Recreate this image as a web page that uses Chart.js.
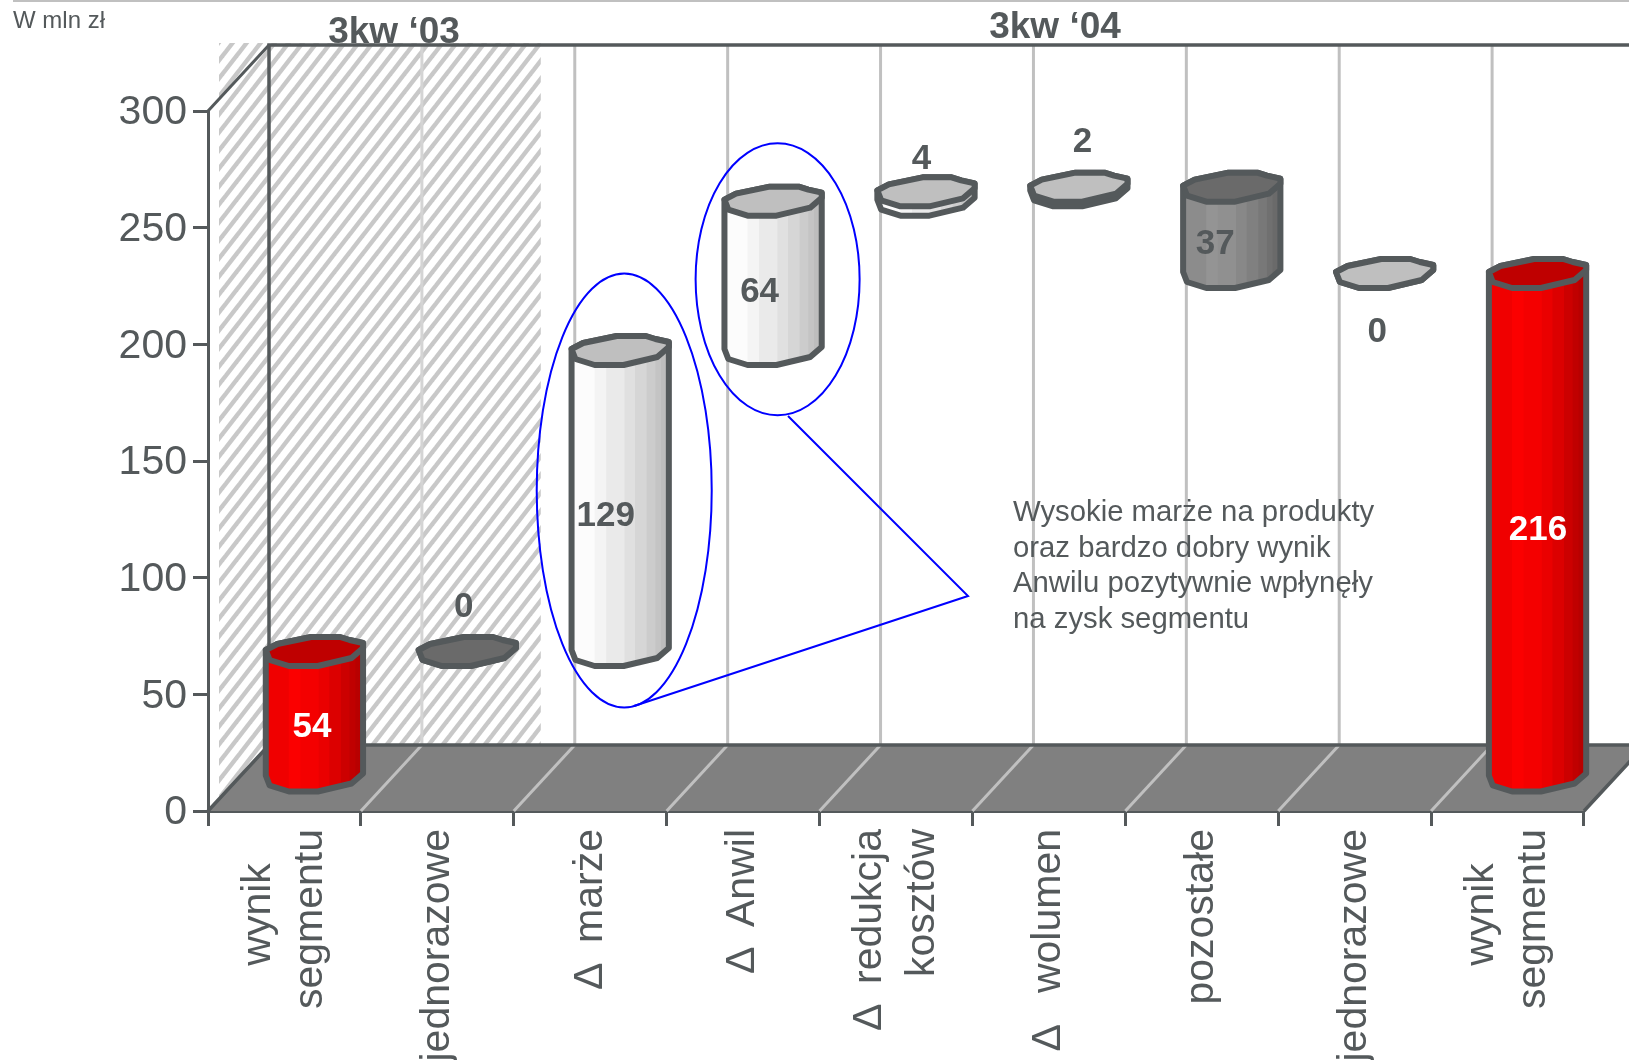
<!DOCTYPE html>
<html lang="pl">
<head>
<meta charset="utf-8">
<title>Wynik segmentu</title>
<script src="https://cdn.jsdelivr.net/npm/chart.js@4"></script>
<style>
  html, body { margin: 0; padding: 0; background: #fff; overflow: hidden; }
  canvas { display: block; }
</style>
</head>
<body>
<canvas id="bridge" width="1629" height="1060"></canvas>
<script>
const categories = [
  ['wynik\u00a0\u00a0\u00a0', 'segmentu'],
  'jednorazowe',
  '\u0394 \u2009mar\u017ce',
  '\u0394 \u2009Anwil',
  ['\u0394 \u2009redukcja', 'kosztów'],
  '\u0394  \u2009wolumen',
  'pozostałe',
  'jednorazowe',
  ['wynik\u00a0\u00a0\u00a0', 'segmentu']
];
const barStart = [0, 54, 54, 183, 247, 251, 216, 216, 0];
const barEnd = [54, 54, 183, 247, 251, 253, 253, 216, 216];
const valueLabels = ['54', '0', '129', '64', '4', '2', '37', '0', '216'];
const yTicks = [0, 50, 100, 150, 200, 250, 300];
const barKinds = ['red', 'dark', 'light', 'light', 'light', 'light', 'dark', 'light', 'red'];
const noteLines = ['Wysokie marże na produkty', 'oraz bardzo dobry wynik', 'Anwilu pozytywnie wpłynęły', 'na zysk segmentu'];

const INK = '#54595b';
const GRID = '#c0c0c0';
const FONT = '"Liberation Sans", Arial, sans-serif';
const DEPTH_X = 61;
const DEPTH_Y = 66;
const BAR_LIFT = 34;
const TICK_LINE = 41 * 1.28;

// stepped shading across a cylinder body
const stripStops = [0, .25, .37, .56, .67, .79, .88, .94, 1];
const ramps = {
  red: ['#f00000', '#fb0000', '#f40000', '#ea0000', '#dc0000', '#cc0000', '#c00000', '#b80000'],
  light: ['#fcfcfc', '#f4f4f4', '#eaeaea', '#e0e0e0', '#d6d6d6', '#cccccc', '#c4c4c4', '#bdbdbd'],
  dark: ['#8c8c8c', '#949494', '#909090', '#888888', '#808080', '#787878', '#707070', '#6a6a6a']
};
const capColors = { red: '#bf0000', light: '#bfbfbf', dark: '#6a6a6a' };

// outline of the cap, per 100px of bar width
const capShape = [[-50, -1], [-38, -7], [-3, -14], [27, -14], [37, -11], [51, -8], [51, -3], [39, 7], [4, 15], [-26, 15], [-46, 9]];

// where each value sits relative to its bar
const labelNudge = [[-2, 16], [-3, -42], [-14, 18], [-13, 19], [-4, -30], [4, -42], [-16, 17], [-7, 61], [1, 8]];

function stripes() {
  const w = 14, h = 18;
  const tile = document.createElement('canvas');
  tile.width = w;
  tile.height = h;
  const t = tile.getContext('2d');
  t.fillStyle = '#fff';
  t.fillRect(0, 0, w, h);
  t.strokeStyle = '#c8c8c8';
  t.lineWidth = 4.4;
  for (let i = -1; i <= 1; i++) {
    t.beginPath();
    t.moveTo(i * w - w, h * 2);
    t.lineTo(i * w + w * 2, -h);
    t.stroke();
  }
  return tile;
}

function line(ctx, pts, color, width) {
  ctx.strokeStyle = color;
  ctx.lineWidth = width;
  ctx.beginPath();
  pts.forEach((p, i) => i ? ctx.lineTo(p[0], p[1]) : ctx.moveTo(p[0], p[1]));
  ctx.stroke();
}

// two-line labels are centred on the tick, value labels dropped slightly
const tickTweaks = {
  id: 'tickTweaks',
  afterUpdate(chart) {
    chart.scales.x.getLabelItems().forEach(item => {
      if (Array.isArray(item.label)) item.options.translation[0] -= TICK_LINE / 2;
    });
    chart.scales.y.getLabelItems().forEach(item => {
      item.options.translation[1] += 2;
    });
  }
};

// walls and floor behind the bars
const room = {
  id: 'room',
  beforeDatasetsDraw(chart) {
    const { ctx, scales: { x, y } } = chart;
    const top = y.top, floor = y.bottom;
    const wallTop = top - DEPTH_Y, wallFloor = floor - DEPTH_Y;
    const step = x.width / categories.length;
    ctx.save();

    // first two categories sit on a hatched band
    ctx.fillStyle = ctx.createPattern(stripes(), 'repeat');
    ctx.fillRect(x.left + 11, wallTop - 2, step * 2 + 16, wallFloor - wallTop + 2 + DEPTH_Y);

    for (let i = 1; i < categories.length; i++) {
      const bx = x.left + i * step + DEPTH_X;
      line(ctx, [[bx, wallTop], [bx, wallFloor]], i === 1 ? '#d4d4d4' : GRID, 3);
    }

    ctx.fillStyle = '#808080';
    ctx.beginPath();
    ctx.moveTo(x.left, floor);
    ctx.lineTo(x.left + DEPTH_X, wallFloor);
    ctx.lineTo(x.right + DEPTH_X, wallFloor);
    ctx.lineTo(x.right, floor);
    ctx.closePath();
    ctx.fill();
    for (let i = 1; i < categories.length; i++) {
      const fx = x.left + i * step;
      line(ctx, [[fx, floor], [fx + DEPTH_X, wallFloor]], GRID, 3);
    }

    line(ctx, [[x.left, floor], [x.left + DEPTH_X, wallFloor], [x.right + DEPTH_X, wallFloor], [x.right, floor]], INK, 3.5);
    line(ctx, [[x.left + DEPTH_X, wallFloor], [x.left + DEPTH_X, wallTop], [chart.width, wallTop]], INK, 3.5);
    line(ctx, [[x.left, top], [x.left + DEPTH_X, wallTop]], INK, 3);
    ctx.restore();
  }
};

function capPath(ctx, cx, cy, k) {
  ctx.beginPath();
  capShape.forEach((p, i) => {
    if (i) ctx.lineTo(cx + p[0] * k, cy + p[1]);
    else ctx.moveTo(cx + p[0] * k, cy + p[1]);
  });
  ctx.closePath();
}

function drawCylinder(ctx, cx, topY, baseY, width, kind) {
  const k = width / 100;
  const left = cx - width / 2;

  // silhouette: upper half of the top cap, lower half of the bottom cap
  ctx.beginPath();
  capShape.slice(0, 7).forEach((p, i) => {
    if (i) ctx.lineTo(cx + p[0] * k, topY + p[1]);
    else ctx.moveTo(cx + p[0] * k, topY + p[1]);
  });
  capShape.slice(6).concat([capShape[0]]).forEach(p => ctx.lineTo(cx + p[0] * k, baseY + p[1]));
  ctx.closePath();

  ctx.save();
  ctx.clip();
  ramps[kind].forEach((color, i) => {
    ctx.fillStyle = color;
    ctx.fillRect(left + stripStops[i] * width - 1, topY - 20, (stripStops[i + 1] - stripStops[i]) * width + 3, baseY - topY + 40);
  });
  ctx.restore();
  ctx.strokeStyle = INK;
  ctx.lineWidth = 6;
  ctx.lineJoin = 'round';
  ctx.stroke();

  capPath(ctx, cx, topY, k);
  ctx.fillStyle = capColors[kind];
  ctx.fill();
  ctx.stroke();
}

// cylinders stand mid-way across the floor depth
const cylinders = {
  id: 'cylinders',
  afterDatasetsDraw(chart) {
    const { ctx } = chart;
    const bars = chart.getDatasetMeta(0).data;
    ctx.save();
    bars.forEach((bar, i) => {
      const cx = bar.x + 29.5;
      drawCylinder(ctx, cx, bar.y - BAR_LIFT, bar.base - BAR_LIFT, bar.width, barKinds[i]);
    });
    ctx.font = 'bold 35px ' + FONT;
    ctx.textAlign = 'center';
    ctx.textBaseline = 'middle';
    bars.forEach((bar, i) => {
      const cx = bar.x + 29.5;
      const topY = bar.y - 36, baseY = bar.base - 36;
      const inside = baseY - topY > 40;
      ctx.fillStyle = barKinds[i] === 'red' ? '#fff' : INK;
      ctx.fillText(valueLabels[i], cx + labelNudge[i][0], (inside ? (topY + baseY) / 2 : topY) + labelNudge[i][1]);
    });
    ctx.restore();
  }
};

// blue rings on the two main drivers, tied to the note
const callout = {
  id: 'callout',
  afterDatasetsDraw(chart) {
    const { ctx } = chart;
    const bars = chart.getDatasetMeta(0).data;
    const mid = bars[2], small = bars[3];
    const tipX = 968, tipY = 596;
    ctx.save();
    ctx.strokeStyle = '#0000ff';
    ctx.lineWidth = 2;
    ctx.beginPath();
    ctx.ellipse(mid.x + 34, (mid.y + mid.base) / 2 - 44, 87.5, 217, 0, 0, Math.PI * 2);
    ctx.stroke();
    ctx.beginPath();
    ctx.ellipse(small.x + 34.5, (small.y + small.base) / 2 - 30, 82, 136, 0, 0, Math.PI * 2);
    ctx.stroke();
    ctx.beginPath();
    ctx.moveTo(788, 416);
    ctx.lineTo(tipX, tipY);
    ctx.lineTo(634, 706);
    ctx.stroke();

    ctx.fillStyle = INK;
    ctx.font = '29.3px ' + FONT;
    ctx.textAlign = 'left';
    ctx.textBaseline = 'middle';
    noteLines.forEach((text, i) => ctx.fillText(text, 1013, 513 + i * 35.5));

    ctx.font = 'bold 37px ' + FONT;
    ctx.textAlign = 'center';
    ctx.textBaseline = 'alphabetic';
    ctx.fillText('3kw \u201803', 394, 43);
    ctx.fillText('3kw \u201804', 1055, 38);

    ctx.font = '24px ' + FONT;
    ctx.textAlign = 'left';
    ctx.fillText('W mln zł', 13, 28);

    line(ctx, [[13, 1], [chart.width, 1]], GRID, 2);
    ctx.restore();
  }
};

new Chart(document.getElementById('bridge'), {
  type: 'bar',
  data: {
    labels: categories,
    datasets: [{
      data: categories.map((_, i) => [barStart[i], barEnd[i]]),
      backgroundColor: 'transparent',
      barPercentage: 1,
      categoryPercentage: 0.63
    }]
  },
  options: {
    responsive: false,
    animation: false,
    layout: { padding: { top: 111, right: 45 } },
    plugins: { legend: { display: false }, tooltip: { enabled: false } },
    scales: {
      x: {
        afterFit: s => { s.height = 249; },
        border: { color: INK, width: 3 },
        grid: { drawOnChartArea: false, color: INK, tickColor: INK, tickWidth: 3, tickLength: 15 },
        ticks: {
          autoSkip: false,
          minRotation: 90,
          maxRotation: 90,
          padding: 3,
          color: INK,
          font: { family: FONT, size: 41, lineHeight: 1.28 }
        }
      },
      y: {
        min: 0,
        max: 300,
        afterFit: s => { s.width = 208; },
        afterBuildTicks: s => { s.ticks = yTicks.map(value => ({ value })); },
        border: { color: INK, width: 3 },
        grid: { drawOnChartArea: false, tickColor: INK, tickWidth: 3, tickLength: 15 },
        ticks: { padding: 6, color: INK, font: { family: FONT, size: 41 } }
      }
    }
  },
  plugins: [tickTweaks, room, cylinders, callout]
});
</script>
</body>
</html>
